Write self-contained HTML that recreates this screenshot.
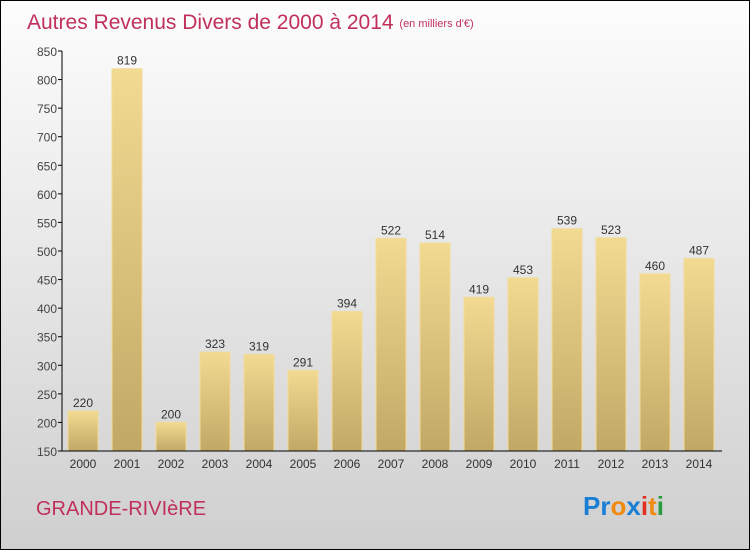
<!DOCTYPE html>
<html><head><meta charset="utf-8"><style>
body{margin:0}
#c{position:relative;width:748px;height:548px;border:1px solid #000;background:linear-gradient(#fdfdfd,#cfcfcf);font-family:"Liberation Sans",sans-serif;overflow:hidden}
</style></head><body>
<div id="c">
<svg id="s" width="748" height="548" style="position:absolute;left:0;top:0">
<defs><linearGradient id="g" x1="0" y1="0" x2="0" y2="1"><stop offset="0" stop-color="#f3da92"/><stop offset="1" stop-color="#c1a865"/></linearGradient></defs>
<text x="26" y="28" font-size="21" fill="#c0305a">Autres Revenus Divers de 2000 à 2014 <tspan font-size="11" dy="-2">(en milliers d'€)</tspan></text>
<text x="35" y="514" font-size="20" fill="#c0305a">GRANDE-RIVIèRE</text>
<text x="582" y="514" font-size="26" font-weight="bold"><tspan fill="#1a7fd4">Pr</tspan><tspan fill="#f08a10">o</tspan><tspan fill="#1a7fd4">x</tspan><tspan fill="#e03020">i</tspan><tspan fill="#f08a10">t</tspan><tspan fill="#2a9a40">i</tspan></text>
<g id="plot"></g>
</svg>
</div>
<script>
const categories=["2000","2001","2002","2003","2004","2005","2006","2007","2008","2009","2010","2011","2012","2013","2014"];
const values=[220,819,200,323,319,291,394,522,514,419,453,539,523,460,487];
const yTicks=[150,200,250,300,350,400,450,500,550,600,650,700,750,800,850];
const NS="http://www.w3.org/2000/svg";
const g=document.getElementById('plot');
const y0=450,yMin=150,yMax=850,pxPer=400/(yMax-yMin);
const yScale=v=>y0-(v-yMin)*pxPer;
const xScale=i=>82+i*44;
function mk(t,a){const e=document.createElementNS(NS,t);for(const k in a)e.setAttribute(k,a[k]);g.appendChild(e);return e;}
yTicks.forEach(v=>{
 const y=yScale(v);
 const l=mk('line',{x1:57,x2:61,y1:y,y2:y,stroke:'#000'});
 
 
 const t=mk('text',{x:56,y:y+5,'text-anchor':'end','font-size':12,fill:'#444'});
 t.textContent=v;
 
 
});
values.forEach((v,i)=>{
 const cx=xScale(i),y=yScale(v);
 const r=mk('rect',{x:cx-15,y:y,width:30,height:y0-y,fill:'url(#g)',stroke:'#f0dc98','stroke-width':1});
 
 
 const t=mk('text',{x:cx,y:y-4,'text-anchor':'middle','font-size':12,fill:'#333'});
 t.textContent=v;
 
 
 const c=mk('text',{x:cx,y:467,'text-anchor':'middle','font-size':12,fill:'#333'});
 c.textContent=categories[i];
 
 
});
const ya=mk('line',{x1:61,x2:61,y1:50,y2:450,stroke:'#000'});


const xa=mk('line',{x1:61,x2:721,y1:450,y2:450,stroke:'#000'});


</script>
</body></html>
